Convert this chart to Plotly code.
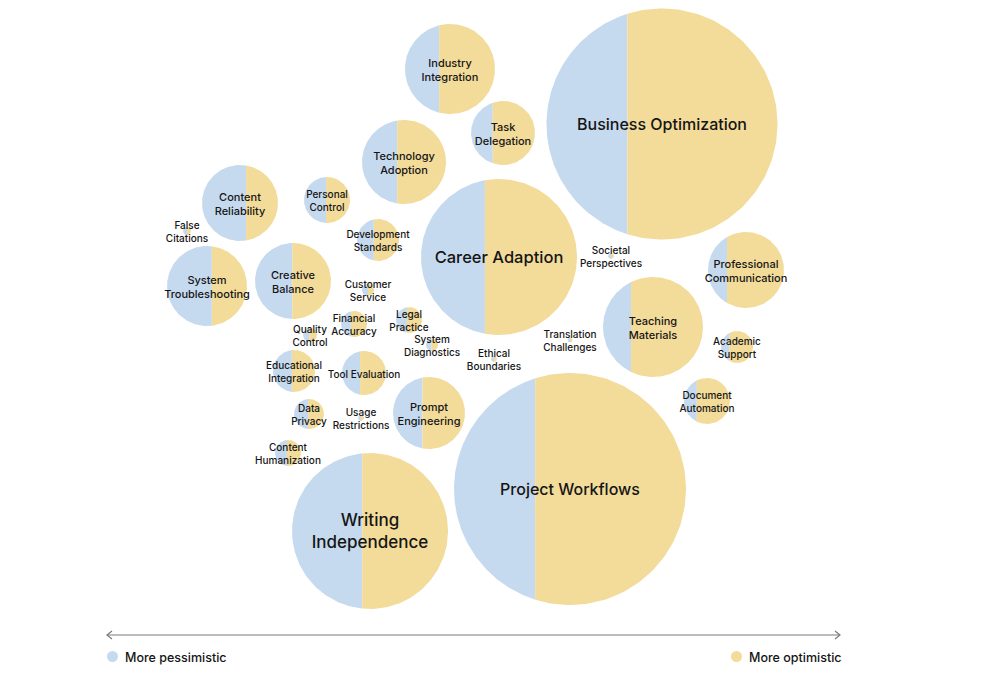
import numpy as np
import plotly.graph_objects as go

# ---- data ----
topics = [
    "Business Optimization", "Project Workflows", "Career Adaption", "Writing<br>Independence",
    "Industry<br>Integration", "Task<br>Delegation", "Technology<br>Adoption", "Content<br>Reliability",
    "Personal<br>Control", "Development<br>Standards", "System<br>Troubleshooting", "Creative<br>Balance",
    "False<br>Citations", "Customer<br>Service", "Financial<br>Accuracy", "Legal<br>Practice",
    "Quality<br>Control", "System<br>Diagnostics", "Ethical<br>Boundaries", "Translation<br>Challenges",
    "Societal<br>Perspectives", "Teaching<br>Materials", "Professional<br>Communication", "Academic<br>Support",
    "Document<br>Automation", "Prompt<br>Engineering", "Tool Evaluation", "Educational<br>Integration",
    "Data<br>Privacy", "Usage<br>Restrictions", "Content<br>Humanization",
]
x_pos = [662, 570, 499, 370, 450, 503, 404, 240, 327, 378, 207, 293, 187, 368, 354, 409,
         310, 432, 494, 570, 611, 653, 746, 737, 707, 429, 364, 294, 309, 361, 288]
y_pos = [124, 489, 257, 531, 69, 133, 162, 203, 200, 240, 286, 281, 231, 290, 324, 320,
         335, 345, 359, 340, 256, 327, 270, 347, 401, 413, 373, 371, 414, 418, 453]
size = [115.5, 116, 78, 78, 45, 32, 42, 38, 23, 21, 40, 38, 4, 6, 13, 13,
        7, 6, 3, 2.5, 3, 50, 38, 16, 23, 36, 22, 21, 15, 3, 13]
pessimistic_share = [0.35, 0.35, 0.41, 0.45, 0.38, 0.34, 0.42, 0.58, 0.48, 0.40, 0.56, 0.49,
                     0.50, 0.50, 0.38, 0.42, 0.45, 0.45, 0.5, 0.5, 0.5, 0.28, 0.25, 0.26,
                     0.28, 0.41, 0.41, 0.45, 0.47, 0.5, 0.46]
label_size = [16, 16, 16.5, 17, 11, 11, 11, 11, 10, 10, 11, 11,
              10, 10, 10, 10, 10, 10, 10, 10, 10, 11, 11, 10,
              10, 11, 10, 10, 10, 10, 10]

legend_labels = ["More pessimistic", "More optimistic"]

BLUE = "#C6DAEF"
YELLOW = "#F3DB99"
TEXT = "#151515"
W, H = 990, 687
PAD = 8  # default page body margin
TEXT_DY = 2

fig = go.Figure()

for cx, cy, r, p in zip(x_pos, y_pos, size, pessimistic_share):
    sx = cx - r + 2 * r * p
    t0 = np.arccos(np.clip((sx - cx) / r, -1, 1))
    tl = np.linspace(t0, 2 * np.pi - t0, 120)
    xl = cx + r * np.cos(tl)
    yl = cy + r * np.sin(tl)
    fig.add_trace(go.Scatter(x=np.append(xl, xl[0]), y=np.append(yl, yl[0]), mode="lines",
                             fill="toself", fillcolor=BLUE, line=dict(width=0, color=BLUE),
                             hoverinfo="skip", showlegend=False))
    tr = np.linspace(-t0, t0, 120)
    xr = cx + r * np.cos(tr)
    yr = cy + r * np.sin(tr)
    fig.add_trace(go.Scatter(x=np.append(xr, xr[0]), y=np.append(yr, yr[0]), mode="lines",
                             fill="toself", fillcolor=YELLOW, line=dict(width=0, color=YELLOW),
                             hoverinfo="skip", showlegend=False))

fig.add_trace(go.Scatter(x=x_pos, y=[v + TEXT_DY for v in y_pos], mode="text", text=topics,
                         textposition="middle center",
                         textfont=dict(family="Inter, Roboto, sans-serif", size=label_size,
                                       color=TEXT, weight=500),
                         hoverinfo="skip", showlegend=False))

# axis arrow
fig.add_shape(type="line", x0=107, x1=840, y0=635, y1=635, line=dict(color="#7a7a7a", width=1.2))
fig.add_shape(type="path", path="M 112 631 L 107 635 L 112 639", line=dict(color="#7a7a7a", width=1.2))
fig.add_shape(type="path", path="M 835 631 L 840 635 L 835 639", line=dict(color="#7a7a7a", width=1.2))

# legend
fig.add_shape(type="circle", x0=107, x1=118, y0=651, y1=662, fillcolor=BLUE, line=dict(width=0))
fig.add_shape(type="circle", x0=731, x1=742, y0=651, y1=662, fillcolor=YELLOW, line=dict(width=0))
fig.add_annotation(x=123, y=657, text=legend_labels[0], showarrow=False, xanchor="left",
                   font=dict(family="Inter, Roboto, sans-serif", size=12.5, color=TEXT, weight=500))
fig.add_annotation(x=747, y=657, text=legend_labels[1], showarrow=False, xanchor="left",
                   font=dict(family="Inter, Roboto, sans-serif", size=12.5, color=TEXT, weight=500))

fig.update_layout(
    width=W - 2 * PAD, height=H - 2 * PAD, margin=dict(l=0, r=0, t=0, b=0),
    paper_bgcolor="white", plot_bgcolor="white",
    xaxis=dict(range=[PAD, W - PAD], visible=False, fixedrange=True),
    yaxis=dict(range=[H - PAD, PAD], visible=False, fixedrange=True),
    showlegend=False,
)

fig.write_html("out.html")
